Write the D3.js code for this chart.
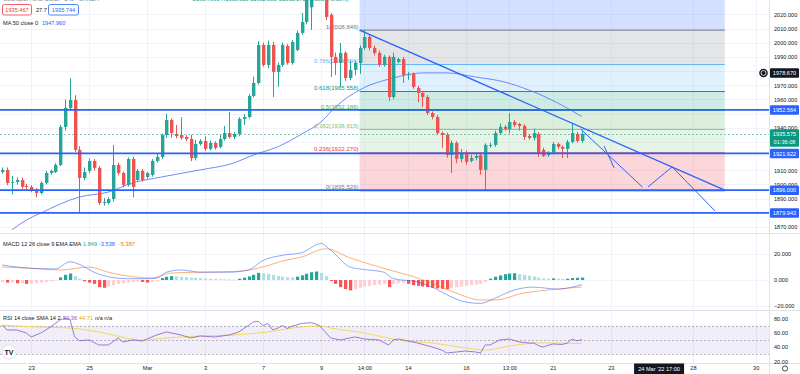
<!DOCTYPE html>
<html><head><meta charset="utf-8">
<script src="https://cdn.jsdelivr.net/npm/d3@7"></script>
<style>
body{margin:0;background:#fff;}
svg{display:block;font-family:"Liberation Sans",Arial,sans-serif;}
</style></head><body>
<svg id="chart" width="800" height="374"></svg>
<script>
// ---------- data ----------
// 4h candles, [open, high, low, close]
var ohlc = [
 [1908.8,1912,1907.5,1910.3],[1910.3,1912,1899.5,1901.1],[1901.1,1906,1893,1901.8],[1901.8,1905,1900,1903.2],
 [1903.2,1905,1897,1898.3],[1899,1900.5,1896.5,1898.3],[1898.3,1899.5,1894.5,1896.2],[1896.2,1897.5,1891,1894],
 [1894,1902,1893,1901.1],[1901.1,1909.5,1900,1908.1],[1908.1,1910.5,1907,1909.6],[1908.8,1915,1908,1913.8],
 [1913.8,1942,1913,1940.6],[1940.6,1960,1938,1954],[1954,1975,1952,1959.6],[1959.6,1963,1923,1924.4],
 [1924.4,1927,1879.9,1904.6],[1904.6,1912,1903,1908.8],[1909.6,1918.5,1908,1916.6],[1916.6,1918,1910,1911.7],
 [1911.7,1913,1885.5,1887],[1887,1890.5,1885,1887.7],[1887,1891,1886,1889.8],[1889.8,1927.9,1888,1913.8],
 [1913.8,1915.5,1906.5,1908.1],[1908.1,1909,1898,1899.7],[1899.7,1919,1898.5,1918],[1918,1919.5,1891,1898.3],
 [1903.2,1911,1902,1909.6],[1909.6,1911,1902,1903.2],[1905.3,1909,1904,1908.1],[1906.7,1918,1905.5,1916.6],
 [1916.6,1922,1915.5,1919.4],[1919.4,1936,1918,1934.9],[1934.9,1950,1933,1945.5],[1945.5,1946.5,1933,1936.3],
 [1935.6,1942,1932.5,1934.2],[1934.9,1947.5,1931.5,1932.8],[1933.5,1935,1930.5,1932.1],[1932.1,1935,1916.5,1918.7],
 [1918.7,1931.5,1917,1928.6],[1928.6,1932,1927.5,1930.7],[1930.7,1934,1923.5,1925.1],[1925.1,1931,1924,1929.3],
 [1929.3,1930.5,1924.5,1925.8],[1926.5,1935,1925.5,1932.1],[1932.1,1941.3,1931,1936.3],[1936.3,1951.2,1932.5,1933.5],
 [1933.5,1937,1932,1935.6],[1935.6,1947.5,1934,1946.2],[1946.2,1949.5,1942,1947.6],[1947.6,1964,1946.5,1962.4],
 [1962.4,1976,1961.5,1971.6],[1971.6,2001,1970.5,1998.4],[1998.4,2000,1983,1984.3],[1984.3,2001.5,1982,1998.4],
 [1998.4,2000.5,1961.7,1979.4],[1979.4,1986,1968.8,1984.3],[1984.3,2000,1983,1998.4],[1997.7,1999,1984.5,1985.7],
 [1985.7,2002,1984.5,2000.5],[1994.9,2008.5,1994,2006.9],[2006.9,2021,2005.5,2014.6],[2014.6,2036,2013,2032],
 [2025,2055,2009,2045],[2045,2070,2040,2060],[2060,2070,2035,2040],[2040,2045,2016,2018.2],
 [2019.6,2021,1975.8,1990],[1990,1993,1977.2,1985.7],[1985.7,1999.8,1968.8,1992.8],[1992.8,1994,1973,1975.1],
 [1975.1,1987.5,1973.5,1980.8],[1980.8,1987,1977,1985.7],[1985.7,1998,1978,1996.3],[1996.3,2008.846,1995,2004],
 [2004,2005.5,1994.5,1996.3],[1996.3,1998,1991,1992.8],[1992.8,1994.5,1983,1984.3],[1984.3,1991.5,1983,1990],
 [1990,1991,1958.9,1961.7],[1961.7,1993,1960.2,1990],[1986.4,1989.5,1985.5,1988.5],[1988.5,1990,1971.6,1977.2],
 [1977.2,1979.5,1973.7,1977.9],[1977.9,1979,1967.5,1968.8],[1968.1,1969.5,1958,1964.6],[1964.6,1966,1954.7,1961.7],
 [1961.7,1963,1949,1950.4],[1950.4,1951.5,1946,1947.6],[1947.6,1949,1935,1936.3],[1936.3,1937.5,1925.8,1934.9],
 [1934.9,1936.5,1919,1920.8],[1920.8,1931,1908.1,1929.3],[1929.3,1930.5,1915,1918],[1918,1925,1915.5,1921.5],
 [1921.5,1924,1914,1915.9],[1916.6,1921,1915.5,1918.7],[1918.7,1922,1917,1920.1],[1920.8,1922,1907,1910.3],
 [1910.3,1929,1895.5,1927.9],[1927.2,1929.5,1926,1927.9],[1927.9,1938,1926.5,1936.3],[1936.3,1943,1935,1940.6],
 [1940.6,1942,1938,1939.2],[1939.2,1950.4,1936,1944.1],[1944.1,1945.5,1940.5,1942],[1942.7,1943.5,1938,1941.3],
 [1941.3,1942.5,1931.5,1933.5],[1934.2,1935.5,1931.5,1932.8],[1932.8,1939.5,1931,1936.3],[1935.6,1937,1919.5,1922.2],
 [1924.4,1926,1919.5,1920.1],[1920.8,1923.5,1919.5,1922.2],[1922.2,1930,1921,1928.6],[1928.6,1929.5,1925,1926.5],
 [1926.5,1927.5,1918.7,1925.1],[1925.1,1931.5,1918.7,1930],[1930,1943.4,1929,1936.3],[1935.6,1937,1929.5,1930.7],
 [1930.7,1937.5,1929.5,1935.575]
];

// MA 50 [candle index, value]
var maPoints = [[2,1868],[5,1874.9],[8,1879.9],[16,1891.2],[22,1894.7],[27,1901.1],[33,1905.3],[41,1910.3],
 [48,1915.2],[52,1920.8],[57,1926.5],[62,1935.6],[66,1944.1],[69,1954.7],[74,1966.7],[81,1975.1],[87,1978.7],
 [92,1978.7],[98,1975.8],[104,1972.3],[109,1966.7],[115,1957.5],[120,1947.96]];

// fib retracement levels drawn from the 2008.846 high to the 1895.526 low
var fibLevels = [
 {label:'0', price:1895.526, color:'#787B86'},
 {label:'0.236', price:1922.270, color:'#F23645'},
 {label:'0.382', price:1938.815, color:'#81C784'},
 {label:'0.5', price:1952.186, color:'#4CAF50'},
 {label:'0.618', price:1965.558, color:'#089981'},
 {label:'0.786', price:1984.596, color:'#64B5F6'},
 {label:'1', price:2008.846, color:'#787B86'},
 {label:'1.618', price:2078.935, color:'#2962FF'}
];
var fibSpan = [74, 149.6];

var hLevels = [1952.564, 1921.922, 1896.000, 1879.943];
var lastPrice = 1935.575;
var crossPrice = 1978.670;

// drawn lines [[index, price],[index, price]]
var trendLine = [[74,2008.846],[149.6,1896.1]];
var pathLines = [
 [[119.8,1938.95],[132.6,1898.05]],
 [[124.6,1927.2],[126.7,1911.7]],
 [[133.7,1898.3],[138.7,1912.4]],
 [[138.7,1912.4],[147.6,1881.3]]
];

// MACD 12 26 9
var macdHist = [-1.5,-2,-2,-2.5,-2.5,-3,-3,-2.5,-2,-1.5,-1,-0.5,2,4,5,3,1,-1,-2,-3,-5.5,-6,-5,
 -4,-3,-2.5,-2,-1.5,-1.2,-1.5,-2,-1.5,-1,1.5,2.5,3,2.8,2.5,2.2,1.8,1.6,1.4,1.2,1.0,0.8,0.6,0.5,0.4,0.3,
 1,1.8,2.8,4,5.5,5.2,4.6,4.0,3.2,2.6,2.2,2.0,2.6,3.6,4.8,6.0,6.5,5.5,3.0,
 -0.8,-3,-5.5,-7,-8,-7,-6,-5,-4.5,-4,-3.5,-3,-5.5,-3,-2.5,-2.2,-3,-4,-4.5,-5,-5.5,-6,-6.5,-6.8,-7,
 -6,-5.5,-5,-4.5,-4,-3.5,-3,-1.5,1,2.5,3.5,4.5,5,5.2,4.5,4,3.2,2.6,1.8,1.2,1.0,1.2,0.9,0.8,1.0,1.5,1.7,1.849];
var macdLine = [[0,11.5],[6,9],[11,8.5],[14,14],[16,12],[19,6],[22,2.5],[26,1],[30,1],[32,1.5],[34,6],[37,7.7],
 [41,6],[47,6],[51,7.7],[54,15],[58,19],[62,21],[66,28],[68,23],[72,10],[74,8.5],[79,6],[81,1],[86,-1.5],
 [89,-5.5],[93,-13],[96,-17],[99,-18],[102,-14],[106,-7.7],[110,-5.5],[115,-7],[118,-5.5],[120,-3.538]];
var signalLine = [[0,10],[6,9],[12,7.7],[18,10],[22,6],[27,2.5],[31,1.5],[35,5.4],[41,6],[48,6.5],[54,10],
 [58,14.6],[62,17.7],[67,24],[72,17],[79,9],[86,1.5],[91,-5.5],[95,-11.5],[99,-15.4],[102,-15.4],[108,-10],
 [113,-7.7],[120,-5.387]];

// RSI 14 and its SMA 14
var rsiLine = [[0,70.8],[1,63.8],[3,63.8],[5,59.6],[6,54],[8,59.6],[10,68],[12,78],[13,80],[14,79],[15,54],
 [16,48.8],[18,49.8],[20,42.8],[22,42.8],[24,52.6],[25,47],[27,49.8],[29,48.4],[32,56.8],[34,61],[37,56.8],
 [39,52.6],[41,55.4],[44,54],[47,56.8],[49,61],[52,75],[53,76],[54,70],[55,73],[56,64],[57,66],[58,70],
 [59,66],[60,69],[61,71],[62,73],[64,74],[65,72],[66,68],[67,60],[68,52.6],[70,49.8],[73,54],[75,51.2],
 [78,49.8],[80,42.8],[81,49.8],[82,51.2],[84,48.4],[86,45.6],[89,40],[91,35.8],[92,31.6],[94,33],[96,34.4],
 [98,33],[99,31.6],[100,42.8],[101,42.8],[103,49.8],[105,51.2],[107,47],[109,45.6],[110,45.6],[111,42],
 [112,40],[114,44.2],[116,43.5],[117,45.6],[118,51.2],[119,48.5],[120,50.36]];
var rsiMa = [[0,70.8],[7,68],[14,66.6],[20,61],[29,49.8],[34,52.6],[41,55.4],[48,56.8],[55,61],[62,68],
 [66,69.4],[68,66.6],[75,59.6],[82,49.8],[89,45.6],[96,38.6],[100,35.8],[105,41.4],[111,45.6],[120,44.71]];

var dayTicks = [6,18,30,42,54,66,75,84,96,105,114,126,143,156];
var dayLabels = ['23','25','Mar','3','7','9','14:00','14','16','13:00','21','23','28','30'];
var priceTicks = [1870,1890,1900,1910,1940,1960,1970,1990,2000,2010,2020];
var gridPrices = d3.range(1870, 2021, 10);
var macdTicks = [20, 0, -20];
var rsiTicks = [80, 60, 40, 20];

// ---------- layout ----------
var plotR = 769;
var main = {top:0, bottom:233};
var macdPane = {top:234, bottom:310};
var rsiPane = {top:311, bottom:363};
var fs = '5.6px';

var svg = d3.select('#chart');
var xScale = d3.scaleLinear().domain([0, 159]).range([2.2, 2.2 + 4.83 * 159]);
var yMain = d3.scaleLinear().domain([1865.8, 2030.1]).range([main.bottom, main.top]);
var yMacd = d3.scaleLinear().domain([-23.08, 35.38]).range([macdPane.bottom, macdPane.top]);
var yRsi = d3.scaleLinear().domain([17.6, 90.35]).range([rsiPane.bottom, rsiPane.top]);

var up = '#26a69a', down = '#ef5350', blue = '#2962FF';
var textCol = '#131722';

var defs = svg.append('defs');
[['clipMain', main], ['clipMacd', macdPane], ['clipRsi', rsiPane]].forEach(function(c) {
  defs.append('clipPath').attr('id', c[0]).append('rect')
    .attr('x', 0).attr('y', c[1].top).attr('width', plotR).attr('height', c[1].bottom - c[1].top);
});

// grid
var grid = svg.append('g');
grid.selectAll('.vg').data(dayTicks).enter().append('line')
  .attr('x1', d => Math.round(xScale(d)) + 0.5).attr('x2', d => Math.round(xScale(d)) + 0.5)
  .attr('y1', 0).attr('y2', rsiPane.bottom)
  .style('stroke', '#f0f3fa');
grid.selectAll('.hg').data(gridPrices).enter().append('line')
  .attr('x1', 0).attr('x2', plotR)
  .attr('y1', d => Math.round(yMain(d)) + 0.5).attr('y2', d => Math.round(yMain(d)) + 0.5)
  .style('stroke', '#f0f3fa');
grid.selectAll('.mg').data(macdTicks).enter().append('line')
  .attr('x1', 0).attr('x2', plotR)
  .attr('y1', d => Math.round(yMacd(d)) + 0.5).attr('y2', d => Math.round(yMacd(d)) + 0.5)
  .style('stroke', '#f0f3fa');

// ---------- main pane ----------
var mg = svg.append('g').attr('clip-path', 'url(#clipMain)');

// fib bands
var fx0 = xScale(fibSpan[0]), fx1 = xScale(fibSpan[1]);
var bands = d3.pairs(fibLevels);
mg.selectAll('.fband').data(bands).enter().append('rect')
  .attr('x', fx0).attr('width', fx1 - fx0)
  .attr('y', d => yMain(d[1].price)).attr('height', d => yMain(d[0].price) - yMain(d[1].price))
  .style('fill', d => d[1].color).style('fill-opacity', 0.2);
mg.selectAll('.fline').data(fibLevels).enter().append('line')
  .attr('x1', fx0).attr('x2', fx1)
  .attr('y1', d => yMain(d.price)).attr('y2', d => yMain(d.price))
  .style('stroke', d => d.color).style('stroke-width', 1);
mg.selectAll('.flabel').data(fibLevels.slice(0, 7)).enter().append('text')
  .attr('x', fx0 - 1).attr('y', d => yMain(d.price) - 1.5)
  .style('text-anchor', 'end').style('font-size', '6.1px')
  .style('fill', d => d.color)
  .text(d => d.label + '(' + d.price.toFixed(3) + ')');

// MA 50
mg.append('path').datum(maPoints)
  .attr('d', d3.line().x(d => xScale(d[0])).y(d => yMain(d[1])).curve(d3.curveMonotoneX))
  .style('fill', 'none').style('stroke', '#5b7ff5').style('stroke-width', 0.9);

// candles
mg.selectAll('.wick').data(ohlc).enter().append('line')
  .attr('x1', (d, i) => Math.round(xScale(i)) + 0.5).attr('x2', (d, i) => Math.round(xScale(i)) + 0.5)
  .attr('y1', d => yMain(d[1])).attr('y2', d => yMain(d[2]))
  .style('stroke', d => d[3] >= d[0] ? up : down).style('stroke-width', 1);
mg.selectAll('.body').data(ohlc).enter().append('rect')
  .attr('x', (d, i) => Math.round(xScale(i)) - 1)
  .attr('width', 3.4)
  .attr('y', d => yMain(Math.max(d[0], d[3])))
  .attr('height', d => Math.max(1, Math.abs(yMain(d[0]) - yMain(d[3]))))
  .style('fill', d => d[3] >= d[0] ? up : down);

// last price dashed line
mg.append('line').attr('x1', 0).attr('x2', plotR)
  .attr('y1', Math.round(yMain(lastPrice)) + 0.5).attr('y2', Math.round(yMain(lastPrice)) + 0.5)
  .style('stroke', '#089981').style('stroke-opacity', 0.5).style('stroke-dasharray', '2,2');

// horizontal support / resistance lines
mg.selectAll('.hl').data(hLevels).enter().append('line')
  .attr('x1', 0).attr('x2', plotR)
  .attr('y1', d => yMain(d)).attr('y2', d => yMain(d))
  .style('stroke', blue).style('stroke-width', 1.8);

// trend line and projections
var seg = d3.line().x(d => xScale(d[0])).y(d => yMain(d[1]));
mg.append('path').attr('d', seg(trendLine))
  .style('stroke', blue).style('stroke-width', 1.3).style('fill', 'none');
mg.selectAll('.pl').data(pathLines).enter().append('path')
  .attr('d', d => seg(d))
  .style('stroke', blue).style('stroke-width', 1).style('fill', 'none');

// ---------- MACD pane ----------
var macdG = svg.append('g').attr('clip-path', 'url(#clipMacd)');
macdG.selectAll('.hist').data(macdHist).enter().append('rect')
  .attr('x', (d, i) => Math.round(xScale(i)) - 1)
  .attr('width', 3.2)
  .attr('y', d => yMacd(Math.max(0, d)))
  .attr('height', d => Math.max(0.8, Math.abs(yMacd(d) - yMacd(0))))
  .style('fill', (d, i) => {
    var prev = i > 0 ? macdHist[i - 1] : d;
    if (d >= 0) return d >= prev ? '#26A69A' : '#B2DFDB';
    return d < prev ? '#FF5252' : '#FFCDD2';
  });
var lineMacd = d3.line().x(d => xScale(d[0])).y(d => yMacd(d[1])).curve(d3.curveMonotoneX);
macdG.append('path').datum(signalLine).attr('d', lineMacd)
  .style('fill', 'none').style('stroke', '#FF6D00').style('stroke-opacity', 0.6).style('stroke-width', 0.9);
macdG.append('path').datum(macdLine).attr('d', lineMacd)
  .style('fill', 'none').style('stroke', blue).style('stroke-opacity', 0.6).style('stroke-width', 0.9);

// ---------- RSI pane ----------
var rsiG = svg.append('g').attr('clip-path', 'url(#clipRsi)');
rsiG.append('rect').attr('x', 0).attr('width', plotR)
  .attr('y', yRsi(70)).attr('height', yRsi(30) - yRsi(70))
  .style('fill', '#7E57C2').style('fill-opacity', 0.1);
rsiG.selectAll('.rb').data([70, 50, 30]).enter().append('line')
  .attr('x1', 0).attr('x2', plotR)
  .attr('y1', d => Math.round(yRsi(d)) + 0.5).attr('y2', d => Math.round(yRsi(d)) + 0.5)
  .style('stroke', '#787B86').style('stroke-opacity', 0.5).style('stroke-dasharray', '2,2');
rsiG.append('path').datum(rsiMa)
  .attr('d', d3.line().x(d => xScale(d[0])).y(d => yRsi(d[1])).curve(d3.curveMonotoneX))
  .style('fill', 'none').style('stroke', '#F7D44A').style('stroke-width', 0.9);
rsiG.append('path').datum(rsiLine)
  .attr('d', d3.line().x(d => xScale(d[0])).y(d => yRsi(d[1])))
  .style('fill', 'none').style('stroke', '#7E57C2').style('stroke-opacity', 0.85).style('stroke-width', 0.9);

// ---------- separators ----------
[main.bottom, macdPane.bottom, rsiPane.bottom].forEach(function(y) {
  svg.append('line').attr('x1', 0).attr('x2', 800).attr('y1', y + 0.5).attr('y2', y + 0.5)
    .style('stroke', '#e0e3eb');
});
svg.append('line').attr('x1', plotR + 0.5).attr('x2', plotR + 0.5).attr('y1', 0).attr('y2', 374)
  .style('stroke', '#e0e3eb');

// ---------- right axes ----------
function rightAxis(scale, ticks, fmt) {
  var g = svg.append('g').attr('transform', 'translate(' + (plotR + 1) + ',0)')
    .call(d3.axisRight(scale).tickValues(ticks).tickFormat(fmt).tickSize(0).tickPadding(4));
  g.select('.domain').remove();
  g.selectAll('text').style('font-size', fs).style('fill', textCol)
    .style('font-family', '"Liberation Sans",Arial,sans-serif');
  return g;
}
rightAxis(yMain, priceTicks, d3.format('.3f'));
rightAxis(yMacd, macdTicks, d3.format('.3f'));
rightAxis(yRsi, rsiTicks, d3.format('.2f'));

// price boxes
function priceBox(y, h, fill, lines) {
  svg.append('rect').attr('x', plotR + 1).attr('y', y - h / 2).attr('width', 29).attr('height', h)
    .attr('rx', 1).style('fill', fill);
  lines.forEach(function(t, k) {
    svg.append('text').attr('x', plotR + 15.5).attr('y', y - h / 2 + 6.9 + k * 8)
      .style('text-anchor', 'middle').style('font-size', fs).style('fill', '#fff').text(t);
  });
}
hLevels.forEach(function(p) { priceBox(yMain(p), 9.5, blue, [p.toFixed(3)]); });
priceBox(yMain(lastPrice) + 4, 17.5, '#089981', [lastPrice.toFixed(3), '01:36:08']);
priceBox(yMain(crossPrice), 9.5, textCol, [crossPrice.toFixed(3)]);
svg.append('circle').attr('cx', plotR - 5.5).attr('cy', yMain(crossPrice)).attr('r', 4.3)
  .style('fill', textCol);
svg.append('circle').attr('cx', plotR - 5.5).attr('cy', yMain(crossPrice)).attr('r', 2.5)
  .style('fill', 'none').style('stroke', '#fff').style('stroke-width', 0.8);

// ---------- time axis ----------
var tAxis = svg.append('g').attr('transform', 'translate(0,' + rsiPane.bottom + ')')
  .call(d3.axisBottom(xScale).tickValues(dayTicks)
    .tickFormat((d, i) => dayLabels[i]).tickSize(0).tickPadding(3.5));
tAxis.select('.domain').remove();
tAxis.selectAll('text').style('font-size', fs).style('fill', textCol)
  .style('font-family', '"Liberation Sans",Arial,sans-serif');
svg.append('rect').attr('x', xScale(136) - 25).attr('y', rsiPane.bottom + 0.5)
  .attr('width', 50).attr('height', 10.5).style('fill', textCol);
svg.append('text').attr('x', xScale(136)).attr('y', rsiPane.bottom + 8)
  .style('text-anchor', 'middle').style('font-size', fs).style('fill', '#fff')
  .text("24 Mar '22   17:00");
svg.append('circle').attr('cx', 785).attr('cy', 368.5).attr('r', 2.6)
  .style('fill', 'none').style('stroke', textCol).style('stroke-width', 0.8);

// TV logo
svg.append('circle').attr('cx', 9).attr('cy', 352).attr('r', 7).style('fill', '#fff')
  .style('stroke', '#e0e3eb');
svg.append('text').attr('x', 9).attr('y', 354.5).style('text-anchor', 'middle')
  .style('font-size', '7px').style('font-weight', 'bold').style('fill', textCol).text('TV');

// ---------- legends ----------
var leg = svg.append('g').style('font-size', fs);
leg.append('text').attr('x', 3).attr('y', 1).style('fill', '#787b86')
  .text('Gold Spot / U.S. Dollar · 240 · OANDA');
leg.append('text').attr('x', 192).attr('y', 1).style('fill', '#089981')
  .text('O1934.990 H1936.350 L1932.880 C1935.575 +0.585 (+0.03%)');
leg.append('rect').attr('x', 2.5).attr('y', 4.5).attr('width', 29).attr('height', 10.5).attr('rx', 2)
  .style('fill', '#fff').style('stroke', '#F23645').style('stroke-width', 0.8);
leg.append('text').attr('x', 17).attr('y', 11.9).style('text-anchor', 'middle').style('fill', '#F23645').text('1935.467');
leg.append('text').attr('x', 36).attr('y', 11.9).style('fill', textCol).text('27.7');
leg.append('rect').attr('x', 48.5).attr('y', 4.5).attr('width', 30).attr('height', 10.5).attr('rx', 2)
  .style('fill', '#fff').style('stroke', blue).style('stroke-width', 0.8);
leg.append('text').attr('x', 63.5).attr('y', 11.9).style('text-anchor', 'middle').style('fill', blue).text('1935.744');
leg.append('text').attr('x', 3).attr('y', 25).style('fill', textCol).text('MA 50 close 0');
leg.append('text').attr('x', 42).attr('y', 25).style('fill', blue).text('1947.960');

leg.append('text').attr('x', 3).attr('y', 245.5).style('fill', textCol).text('MACD 12 26 close 9 EMA EMA');
leg.append('text').attr('x', 83).attr('y', 245.5).style('fill', '#26A69A').text('1.849');
leg.append('text').attr('x', 99).attr('y', 245.5).style('fill', blue).text('-3.538');
leg.append('text').attr('x', 119).attr('y', 245.5).style('fill', '#FF6D00').text('-5.387');

leg.append('text').attr('x', 3).attr('y', 319.5).style('fill', textCol).text('RSI 14 close SMA 14 2');
leg.append('text').attr('x', 63).attr('y', 319.5).style('fill', '#7E57C2').text('50.36');
leg.append('text').attr('x', 79).attr('y', 319.5).style('fill', '#e0b000').text('44.71');
leg.append('text').attr('x', 95).attr('y', 319.5).style('fill', textCol).text('n/a  n/a');
</script>
</body></html>
